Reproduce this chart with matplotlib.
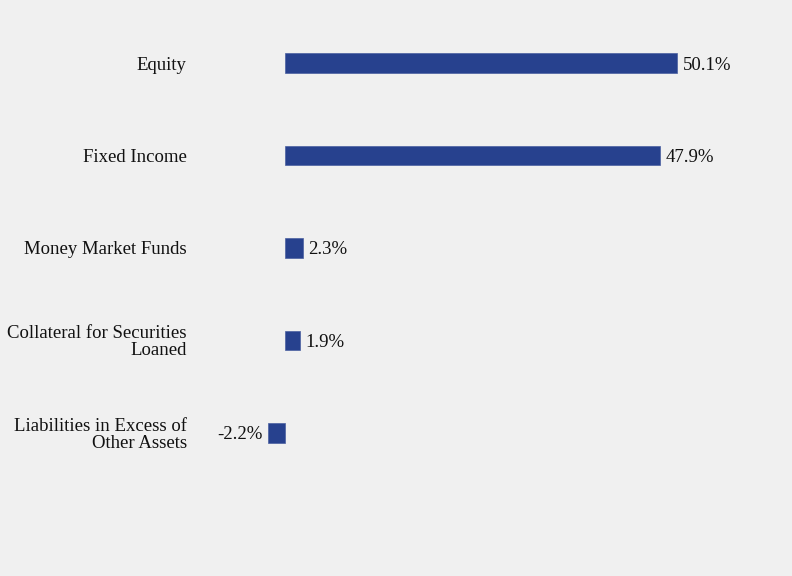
import matplotlib
matplotlib.use('Agg')
import matplotlib.pyplot as plt

categories = ['Equity', 'Fixed Income', 'Money Market Funds',
              'Collateral for Securities\nLoaned',
              'Liabilities in Excess of\nOther Assets']
values = [50.1, 47.9, 2.3, 1.9, -2.2]
value_labels = ['50.1%', '47.9%', '2.3%', '1.9%', '-2.2%']

bg = '#f0f0f0'
bar_color = '#27418e'

plt.rcParams['font.family'] = ['Liberation Serif', 'DejaVu Serif']

fig = plt.figure(figsize=(7.92, 5.76), dpi=100, facecolor=bg)
ax = fig.add_axes([195 / 792, 0, 1 - 195 / 792, 1])
ax.set_facecolor(bg)

ypos = list(range(len(categories)))
ax.barh(ypos, values, height=0.21, color=bar_color, edgecolor='#4a5fa0', linewidth=0.5)

# scale: zero at x=285px, 50.1% at x=677px
px = 7.824
ax.set_xlim((195 - 285) / px, (792 - 285) / px)
ax.set_ylim((576 - 63) / 92.5, -63 / 92.5)

ax.set_yticks(ypos)
ax.set_yticklabels(categories, fontsize=13.5, color='#111111', linespacing=1.0)
ax.tick_params(axis='y', length=0, pad=6)
ax.set_xticks([])
for s in ax.spines.values():
    s.set_visible(False)

for y, v, lab in zip(ypos, values, value_labels):
    if v >= 0:
        ax.annotate(lab, (v, y), xytext=(4, 0), textcoords='offset points',
                    ha='left', va='center_baseline', fontsize=13.5, color='#111111')
    else:
        ax.annotate(lab, (v, y), xytext=(-4, 0), textcoords='offset points',
                    ha='right', va='center_baseline', fontsize=13.5, color='#111111')

fig.savefig('out.png', dpi=100, facecolor=bg)
